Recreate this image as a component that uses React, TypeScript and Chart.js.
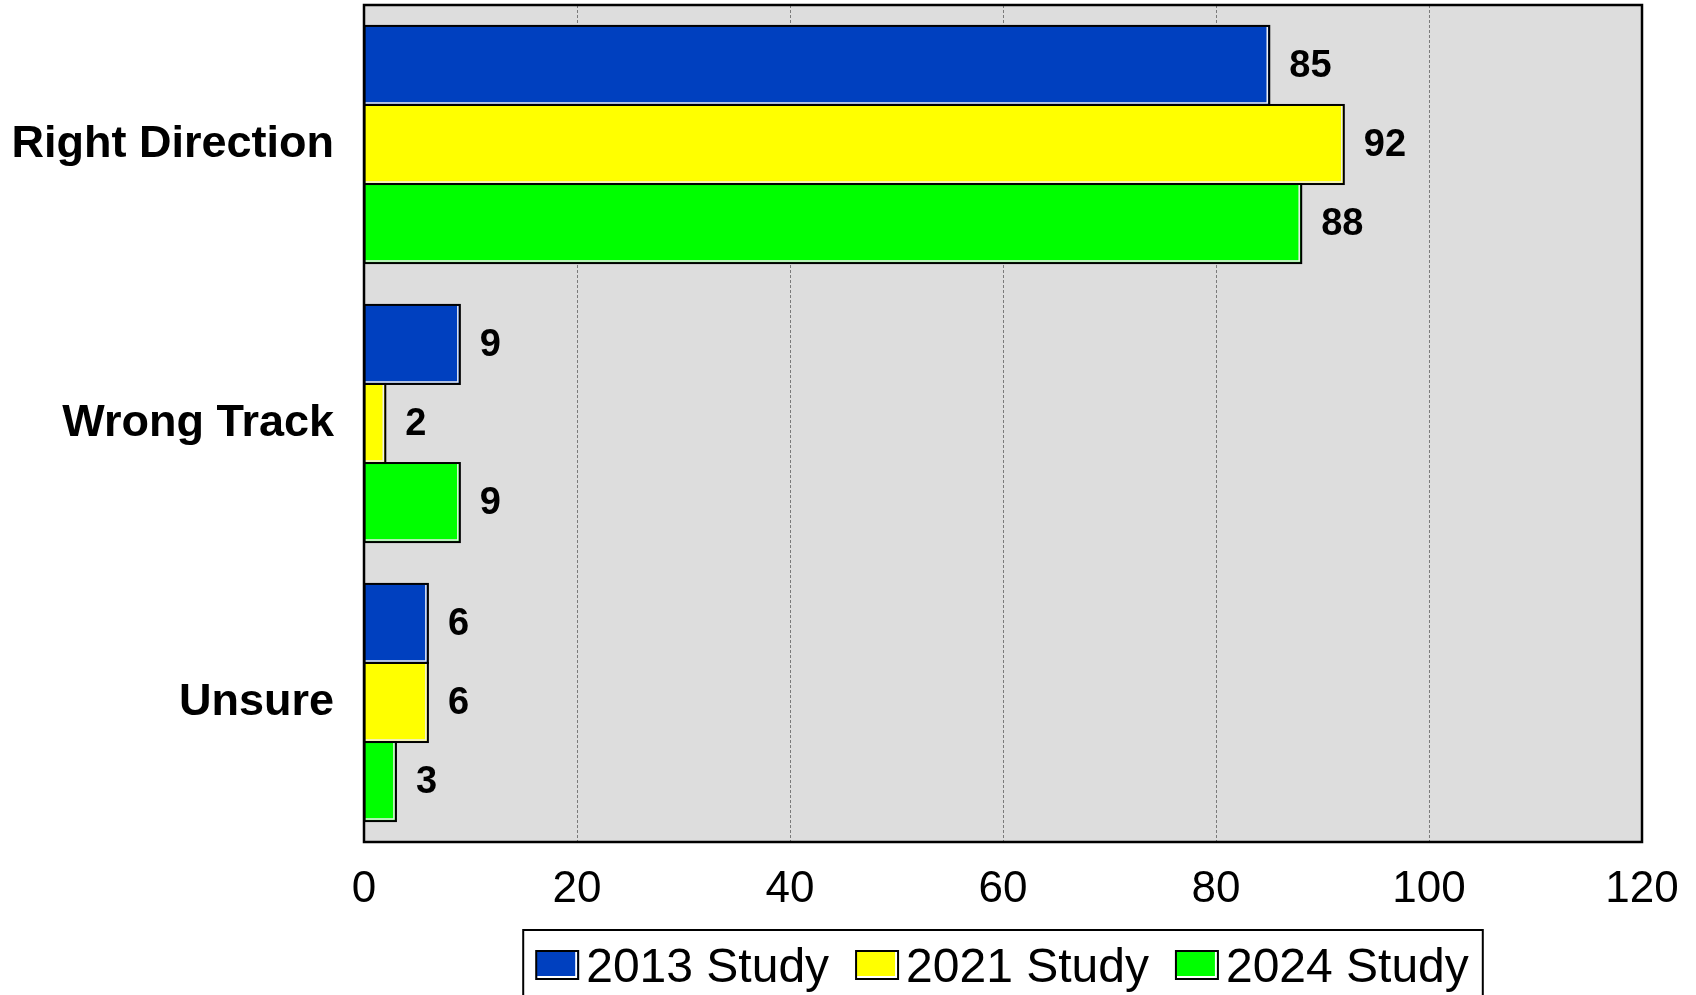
import React, { useEffect, useRef } from "react";
import { Chart, registerables } from "chart.js";

Chart.register(...registerables);

const categories = ["Right Direction", "Wrong Track", "Unsure"];
const seriesLabels = ["2013 Study", "2021 Study", "2024 Study"];
const values2013 = [85, 9, 6];
const values2021 = [92, 2, 6];
const values2024 = [88, 9, 3];
const seriesColors = ["#0040BF", "#FFFF00", "#00FF00"];
const xMin = 0;
const xMax = 120;
const xStep = 20;

const FONT = '"Liberation Sans", Arial, Helvetica, sans-serif';

const backgroundPlugin = {
  id: "plotBg",
  beforeDraw(chart: any) {
    const { ctx, chartArea: ca } = chart;
    ctx.save();
    ctx.fillStyle = "#DDDDDD";
    ctx.fillRect(ca.left, ca.top, ca.right - ca.left, ca.bottom - ca.top);
    ctx.restore();
  },
};

const barStylePlugin = {
  id: "barStyle",
  afterDatasetsDraw(chart: any) {
    const { ctx, chartArea: ca } = chart;
    ctx.save();
    chart.data.datasets.forEach((ds: any, di: number) => {
      const meta = chart.getDatasetMeta(di);
      meta.data.forEach((el: any, i: number) => {
        const left = Math.min(el.base, el.x);
        const right = Math.max(el.base, el.x);
        const top = el.y - el.height / 2;
        const bottom = el.y + el.height / 2;
        // inner light highlight (bottom and right)
        ctx.strokeStyle = "#F0F0F0";
        ctx.lineWidth = 1.5;
        ctx.beginPath();
        ctx.moveTo(left, bottom - 2);
        ctx.lineTo(right - 2, bottom - 2);
        ctx.lineTo(right - 2, top + 1);
        ctx.stroke();
        // black outline
        ctx.strokeStyle = "#000000";
        ctx.lineWidth = 2;
        ctx.strokeRect(left, top, right - left, bottom - top);
        // value label
        ctx.fillStyle = "#000000";
        ctx.font = `bold 38px ${FONT}`;
        ctx.textAlign = "left";
        ctx.textBaseline = "middle";
        ctx.fillText(String(ds.data[i]), right + 20, el.y + 1);
      });
    });
    // plot frame
    ctx.strokeStyle = "#000000";
    ctx.lineWidth = 2.5;
    ctx.strokeRect(ca.left, ca.top, ca.right - ca.left, ca.bottom - ca.top);
    ctx.restore();
  },
};

const boxLegendPlugin = {
  id: "boxLegend",
  afterDraw(chart: any) {
    const { ctx, chartArea: ca } = chart;
    const fontSize = 48;
    const markerW = 42;
    const markerH = 28;
    const gapMT = 8;
    const gapItems = 27;
    const padL = 13;
    const padR = 14;
    ctx.save();
    ctx.font = `${fontSize}px ${FONT}`;
    const items = chart.data.datasets.map((ds: any) => ({
      label: ds.label,
      color: ds.backgroundColor,
      w: ctx.measureText(ds.label).width,
    }));
    let total = padL + padR + gapItems * (items.length - 1);
    items.forEach((it: any) => (total += markerW + gapMT + it.w));
    const left = (ca.left + ca.right) / 2 - total / 2;
    const top = chart.scales.x.bottom;
    const cy = top + 35;
    // frame
    ctx.strokeStyle = "#000000";
    ctx.lineWidth = 2;
    ctx.strokeRect(left, top, total, 120);
    let x = left + padL;
    items.forEach((it: any) => {
      const my = cy - markerH / 2;
      ctx.fillStyle = it.color;
      ctx.fillRect(x, my, markerW, markerH);
      ctx.strokeStyle = "#FFFFFF";
      ctx.lineWidth = 2;
      ctx.beginPath();
      ctx.moveTo(x + 1, my + markerH - 2);
      ctx.lineTo(x + markerW - 2, my + markerH - 2);
      ctx.lineTo(x + markerW - 2, my + 1);
      ctx.stroke();
      ctx.strokeStyle = "#000000";
      ctx.lineWidth = 2;
      ctx.strokeRect(x, my, markerW, markerH);
      x += markerW + gapMT;
      ctx.fillStyle = "#000000";
      ctx.textAlign = "left";
      ctx.textBaseline = "alphabetic";
      ctx.fillText(it.label, x, cy + fontSize * 0.716 / 2);
      x += it.w + gapItems;
    });
    ctx.restore();
  },
};

export default function App() {
  const canvasRef = useRef<HTMLCanvasElement | null>(null);

  useEffect(() => {
    if (!canvasRef.current) return;
    const allValues = [values2013, values2021, values2024];
    const chart = new Chart(canvasRef.current, {
      type: "bar",
      data: {
        labels: categories,
        datasets: seriesLabels.map((label, i) => ({
          label,
          data: allValues[i],
          backgroundColor: seriesColors[i],
          borderWidth: 0,
          categoryPercentage: 0.85,
          barPercentage: 1.0,
        })),
      },
      options: {
        indexAxis: "y",
        animation: false,
        responsive: false,
        maintainAspectRatio: false,
        layout: { padding: { left: 0, top: 5, right: 54, bottom: 65 } },
        plugins: {
          legend: { display: false },
          tooltip: { enabled: false },
        },
        scales: {
          x: {
            type: "linear",
            min: xMin,
            max: xMax,
            ticks: {
              stepSize: xStep,
              color: "#000000",
              font: { family: FONT, size: 44 },
              padding: 21,
            },
            grid: {
              drawTicks: false,
              color: "#7A7A7A",
              lineWidth: 1,
            },
            border: { display: false, dash: [3, 2] },
            afterFit: (scale: any) => {
              scale.height = 88;
              scale.paddingLeft = 0;
              scale.paddingRight = 0;
            },
          },
          y: {
            type: "category",
            ticks: {
              color: "#000000",
              font: { family: FONT, size: 45, weight: "bold" },
              padding: 30,
            },
            grid: { display: false, drawTicks: false },
            border: { display: false },
            afterFit: (scale: any) => {
              scale.width = 364;
              scale.paddingTop = 0;
              scale.paddingBottom = 0;
            },
          },
        },
      },
      plugins: [backgroundPlugin, barStylePlugin, boxLegendPlugin],
    } as any);
    return () => chart.destroy();
  }, []);

  return (
    <div style={{ position: "absolute", left: 0, top: 0, width: 1696, height: 995, background: "#FFFFFF" }}>
      <canvas ref={canvasRef} width={1696} height={995} style={{ width: 1696, height: 995, display: "block" }} />
    </div>
  );
}
